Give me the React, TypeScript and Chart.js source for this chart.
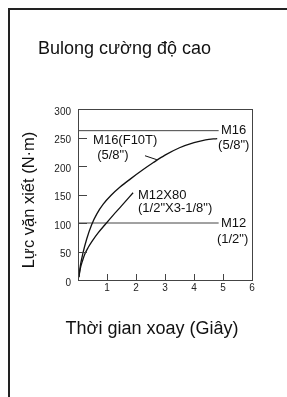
import { useEffect, useRef } from "react";
import { Chart, registerables } from "chart.js";
Chart.register(...registerables);

const TITLE = "Bulong cường độ cao";
const X_TITLE = "Thời gian xoay (Giây)";
const Y_TITLE = "Lực vặn xiết (N·m)";

const xRange = [0, 6];
const yRange = [0, 300];
const xTickValues = [1, 2, 3, 4, 5];
const yTickValues = [50, 100, 150, 200, 250];

// M16 (F10T) 5/8" curve
const m16Time = [0.03, 0.08, 0.17, 0.3, 0.47, 0.65, 0.87, 1.15, 1.45, 1.8, 2.2, 2.6, 3.0, 3.5, 4.0, 4.4, 4.8];
const m16Torque = [5, 25, 47, 72, 97, 116, 133, 149, 163, 177, 192, 206, 219, 232, 241, 246, 248];

// M12X80 curve
const m12x80Time = [0.03, 0.08, 0.15, 0.24, 0.35, 0.5, 0.7, 0.93, 1.2, 1.5, 1.9];
const m12x80Torque = [5, 20, 33, 46, 57, 69, 83, 97, 113, 130, 153];

// reference limits
const limitNames = ["M16", "M12"];
const limitTorque = [262, 100];
const limitEndTime = 4.85;

// annotation texts with anchor (time, torque), left aligned
const noteTexts = ["M16", "(5/8\")", "M12", "(1/2\")", "M16(F10T)", "(5/8\")", "M12X80", "(1/2\"X3-1/8\")"];
const noteTime = [4.93, 4.83, 4.93, 4.79, 0.52, 0.66, 2.07, 2.07];
const noteTorque = [262, 236, 100, 72, 244, 219, 149, 125];

// leader line from label M16(F10T) to curve
const leaderTime = [2.31, 2.72];
const leaderTorque = [218, 211];

const FONT = "Arial, 'Liberation Sans', sans-serif";

const toPoints = (xs: number[], ys: number[]) => xs.map((x, i) => ({ x, y: ys[i] }));

export default function App() {
  const ref = useRef<HTMLCanvasElement>(null);
  useEffect(() => {
    const canvas = ref.current!;
    const deco = {
      id: "deco",
      afterDraw(chart: any) {
        const ctx = chart.ctx;
        const xs = chart.scales.x;
        const ys = chart.scales.y;
        const a = chart.chartArea;
        ctx.save();
        // plot box
        ctx.strokeStyle = "#444";
        ctx.lineWidth = 1;
        ctx.strokeRect(Math.round(a.left) + 0.5, Math.round(a.top) + 0.5, Math.round(a.right - a.left), Math.round(a.bottom - a.top));
        // inward ticks
        ctx.beginPath();
        yTickValues.forEach((v) => {
          const y = Math.round(ys.getPixelForValue(v)) + 0.5;
          ctx.moveTo(a.left, y);
          ctx.lineTo(a.left + 9, y);
        });
        xTickValues.forEach((v) => {
          const x = Math.round(xs.getPixelForValue(v)) + 0.5;
          ctx.moveTo(x, a.bottom);
          ctx.lineTo(x, a.bottom - 6);
        });
        ctx.stroke();
        // leader
        ctx.strokeStyle = "#111";
        ctx.beginPath();
        ctx.moveTo(xs.getPixelForValue(leaderTime[0]), ys.getPixelForValue(leaderTorque[0]));
        ctx.lineTo(xs.getPixelForValue(leaderTime[1]), ys.getPixelForValue(leaderTorque[1]));
        ctx.stroke();
        // notes
        ctx.fillStyle = "#111";
        ctx.font = `13px ${FONT}`;
        ctx.textAlign = "left";
        ctx.textBaseline = "middle";
        noteTexts.forEach((t, i) => {
          ctx.fillText(t, xs.getPixelForValue(noteTime[i]), ys.getPixelForValue(noteTorque[i]));
        });
        // titles
        ctx.font = `18px ${FONT}`;
        ctx.textBaseline = "middle";
        ctx.fillText(TITLE, 38, 49);
        ctx.textAlign = "center";
        ctx.fillText(X_TITLE, 152, 329);
        ctx.font = `16.5px ${FONT}`;
        ctx.save();
        ctx.translate(29, 200);
        ctx.rotate(-Math.PI / 2);
        ctx.fillText(Y_TITLE, 0, 0);
        ctx.restore();
        // outer frame
        ctx.fillStyle = "#222";
        ctx.fillRect(8, 8, 279, 2);
        ctx.fillRect(8, 8, 2, 389);
        ctx.restore();
      },
    };
    const chart = new Chart(canvas, {
      type: "line",
      data: {
        datasets: [
          { data: toPoints(m16Time, m16Torque), borderColor: "#111", borderWidth: 1.3, pointRadius: 0, cubicInterpolationMode: "monotone" },
          { data: toPoints(m12x80Time, m12x80Torque), borderColor: "#111", borderWidth: 1.3, pointRadius: 0, cubicInterpolationMode: "monotone" },
          ...limitTorque.map((v, i) => ({
            label: limitNames[i],
            data: toPoints([xRange[0], limitEndTime], [v, v]),
            borderColor: "#444",
            borderWidth: 1,
            pointRadius: 0,
          })),
        ],
      },
      options: {
        responsive: false,
        animation: false,
        layout: { padding: { left: 48, right: 35, top: 109, bottom: 97 } },
        plugins: { legend: { display: false }, tooltip: { enabled: false } },
        scales: {
          x: {
            type: "linear",
            min: xRange[0],
            max: xRange[1],
            grid: { display: false, drawTicks: false },
            border: { display: false },
            ticks: {
              stepSize: 1,
              padding: 2,
              color: "#222",
              font: { size: 10, family: FONT },
              callback: (v: any) => (v === 0 ? "" : String(v)),
            },
            afterFit: (s: any) => { s.height = 20; },
          },
          y: {
            type: "linear",
            min: yRange[0],
            max: yRange[1],
            grid: { display: false, drawTicks: false },
            border: { display: false },
            ticks: {
              stepSize: 50,
              padding: 7,
              labelOffset: 3,
              color: "#222",
              font: { size: 10, family: FONT },
            },
            afterFit: (s: any) => { s.width = 30; },
          },
        },
      },
      plugins: [deco],
    } as any);
    return () => chart.destroy();
  }, []);
  return (
    <div style={{ position: "fixed", left: 0, top: 0, width: 287, height: 397, background: "#fff" }}>
      <canvas ref={ref} width={287} height={397} />
    </div>
  );
}
